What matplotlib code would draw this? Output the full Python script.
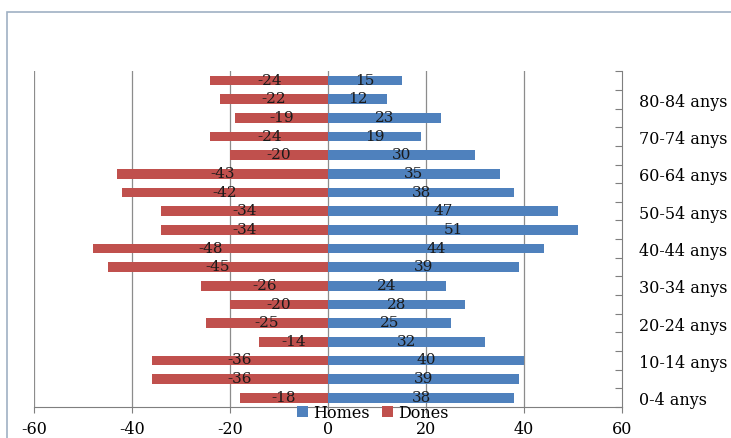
import numpy as np
import matplotlib
matplotlib.use('Agg')
import matplotlib.pyplot as plt
from matplotlib.patches import Rectangle

# Age groups, bottom to top
grups = ['0-4 anys', '5-9 anys', '10-14 anys', '15-19 anys', '20-24 anys', '25-29 anys',
         '30-34 anys', '35-39 anys', '40-44 anys', '45-49 anys', '50-54 anys', '55-59 anys',
         '60-64 anys', '65-69 anys', '70-74 anys', '75-79 anys', '80-84 anys', '85+ anys']
homes = [38, 39, 40, 32, 25, 28, 24, 39, 44, 51, 47, 38, 35, 30, 19, 23, 12, 15]
dones = [-18, -36, -36, -14, -25, -20, -26, -45, -48, -34, -34, -42, -43, -20, -24, -19, -22, -24]
xticks = [-60, -40, -20, 0, 20, 40, 60]

blau = '#4F81BD'
vermell = '#C0504D'
plt.rcParams['font.family'] = ['DejaVu Serif']

fig = plt.figure(figsize=(7.31, 4.39), dpi=100)
ax = fig.add_axes([0.0465, 0.0705, 0.8045, 0.765])

# outer chart border
fig.patches.append(Rectangle((0.0096, -0.05), 1.1, 1.02, transform=fig.transFigure,
                             fill=False, edgecolor='#9fb0c4', linewidth=1.2))

y = np.arange(len(grups))
ax.barh(y, homes, height=0.52, color=blau, label='Homes', zorder=2)
ax.barh(y, dones, height=0.52, color=vermell, label='Dones', zorder=2)

for yi, h, d in zip(y, homes, dones):
    ax.text(h / 2, yi + 0.05, str(h), ha='center', va='center', fontsize=11, color='#1a1a1a', zorder=3)
    ax.text(d / 2, yi + 0.05, str(d), ha='center', va='center', fontsize=11, color='#1a1a1a', zorder=3)

ax.set_xlim(-60, 60)
ax.set_ylim(-0.5, len(grups) - 0.5)
ax.set_xticks(xticks)
ax.set_xticklabels([str(v) for v in xticks], fontsize=11.5)
for v in xticks[:-1]:
    ax.axvline(v, color='#8c8c8c', linewidth=0.9, zorder=1)

# right axis with category boundaries
ax.yaxis.tick_right()
ax.set_yticks(np.arange(-0.5, len(grups), 1.0))
ax.set_yticklabels([])
ax.tick_params(axis='y', direction='in', length=5, color='#7f7f7f')
ax.set_yticks(y[::2], minor=True)
ax.set_yticklabels(grups[::2], minor=True, fontsize=11.5)
ax.tick_params(axis='y', which='minor', length=0, pad=12)
ax.tick_params(axis='x', direction='out', length=4, color='#7f7f7f', pad=5)

ax.spines['left'].set_visible(False)
ax.spines['top'].set_visible(False)
ax.spines['right'].set_color('#7f7f7f')
ax.spines['bottom'].set_color('#7f7f7f')

fig.legend(loc='center', bbox_to_anchor=(0.51, 0.058), ncol=2, frameon=False, fontsize=11.5,
           handlelength=0.7, handleheight=0.7, handletextpad=0.3, columnspacing=0.8,
           borderpad=0)

fig.savefig('out.png', dpi=100, facecolor='white')
